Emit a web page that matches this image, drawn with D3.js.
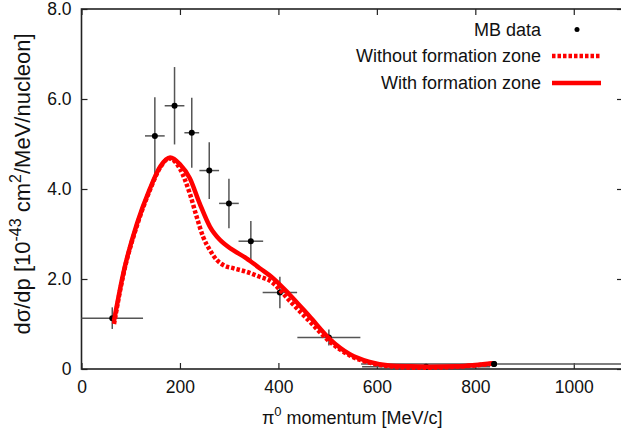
<!DOCTYPE html>
<html><head><meta charset="utf-8">
<script src="https://cdn.jsdelivr.net/npm/d3@7/dist/d3.min.js"></script>
<style>
html,body{margin:0;padding:0;background:#fff;}
svg{display:block;font-family:"Liberation Sans",Arial,Helvetica,sans-serif;}
</style></head>
<body><svg id="chart" width="621" height="432"></svg>
<script>
// ---- data ----
const xTicks = [0, 200, 400, 600, 800, 1000];
const yTicks = [0, 2, 4, 6, 8];
// MB data points: momentum, value, x half-width, y error
const dataX  = [62.5, 149, 189, 224, 259.5, 299.5, 344, 403, 502.5, 700, 838];
const dataY  = [1.13, 5.18, 5.85, 5.25, 4.41, 3.68, 2.84, 1.70, 0.70, 0.05, 0.11];
const dataXE = [62.5, 20, 20, 15, 20, 20, 25, 35, 64, 130, 270];
const dataYE = [0.24, 0.86, 0.86, 0.78, 0.63, 0.55, 0.45, 0.35, 0.18, 0.02, 0.03];
// "With formation zone" curve
const withX = [66, 85, 113, 138, 160, 180, 200, 220, 240, 261, 281, 308, 335, 362, 389, 424, 464, 505, 545, 585, 625, 668, 710, 760, 800, 836];
const withY = [1.07, 2.13, 3.24, 3.98, 4.50, 4.70, 4.55, 4.24, 3.68, 3.16, 2.87, 2.64, 2.46, 2.24, 2.02, 1.64, 1.16, 0.66, 0.33, 0.16, 0.08, 0.06, 0.05, 0.06, 0.09, 0.13];
// "Without formation zone" curve
const woX = [66, 85, 113, 138, 160, 178, 200, 220, 234, 247, 261, 275, 288, 308, 335, 362, 383, 424, 464, 505, 545, 585, 625, 668, 710, 760, 800, 836];
const woY = [1.0, 2.1, 3.2, 3.95, 4.48, 4.68, 4.45, 3.90, 3.38, 2.94, 2.64, 2.42, 2.31, 2.24, 2.16, 2.05, 1.96, 1.50, 1.05, 0.60, 0.30, 0.14, 0.06, 0.03, 0.03, 0.05, 0.08, 0.12];
const legendLabels = ["MB data", "Without formation zone", "With formation zone"];

// ---- layout ----
const L = 81.5, R = 623, T = 9, B = 369;
const x = d3.scaleLinear().domain([0, 1100]).range([L, R]);
const y = d3.scaleLinear().domain([0, 8]).range([B, T]);
const svg = d3.select("#chart");
const FS = 17.5;

const fmtY = d => d === 0 ? "0" : d.toFixed(1);
function styleAxis(g){
  g.select(".domain").remove();
  g.selectAll(".tick line").attr("stroke","#222").attr("stroke-width",1.2);
  g.selectAll("text").attr("font-size",FS).attr("fill","#111").attr("font-family",'"Liberation Sans",Arial,sans-serif');
}
svg.append("g").attr("transform",`translate(${L},0)`)
  .call(d3.axisLeft(y).tickValues(yTicks).tickFormat(fmtY).tickSizeInner(-6).tickSizeOuter(0).tickPadding(10))
  .call(styleAxis);
svg.append("g").attr("transform",`translate(0,${B})`)
  .call(d3.axisBottom(x).tickValues(xTicks).tickFormat(d3.format("d")).tickSizeInner(-6).tickSizeOuter(0).tickPadding(12))
  .call(styleAxis);
svg.append("g").attr("transform",`translate(0,${T})`)
  .call(d3.axisTop(x).tickValues(xTicks).tickFormat("").tickSizeInner(-6).tickSizeOuter(0))
  .call(styleAxis);
svg.append("g").attr("transform",`translate(${R},0)`)
  .call(d3.axisRight(y).tickValues(yTicks).tickFormat("").tickSizeInner(-6).tickSizeOuter(0))
  .call(styleAxis);
svg.append("rect").attr("x",L).attr("y",T).attr("width",R-L).attr("height",B-T)
  .attr("fill","none").attr("stroke","#222").attr("stroke-width",1.6);

// error bars
const pts = dataX.map((v,i)=>({x:v,y:dataY[i],xe:dataXE[i],ye:dataYE[i]}));
const eb = svg.append("g").attr("stroke","#555").attr("stroke-width",1.5);
eb.selectAll("line.h").data(pts).join("line").attr("class","h")
  .attr("x1",d=>x(Math.max(0,d.x-d.xe))).attr("x2",d=>x(d.x+d.xe))
  .attr("y1",d=>y(d.y)).attr("y2",d=>y(d.y));
eb.selectAll("line.v").data(pts).join("line").attr("class","v")
  .attr("x1",d=>x(d.x)).attr("x2",d=>x(d.x))
  .attr("y1",d=>y(d.y-d.ye)).attr("y2",d=>y(d.y+d.ye));

// points
svg.append("g").selectAll("circle").data(pts).join("circle")
  .attr("cx",d=>x(d.x)).attr("cy",d=>y(d.y)).attr("r",3).attr("fill","#000");

// curves (drawn over the points)
const line = d3.line().x(d=>x(d[0])).y(d=>y(d[1])).curve(d3.curveMonotoneX);
svg.append("path").datum(woX.map((v,i)=>[v,woY[i]])).attr("d",line)
  .attr("fill","none").attr("stroke","#ff0000").attr("stroke-width",4.5).attr("stroke-dasharray","3.5,2");
svg.append("path").datum(withX.map((v,i)=>[v,withY[i]])).attr("d",line)
  .attr("fill","none").attr("stroke","#ff0000").attr("stroke-width",4.5);
// end-point marker of the last data point stays visible on top
svg.append("circle").attr("cx",x(dataX[dataX.length-1])).attr("cy",y(dataY[dataY.length-1]))
  .attr("r",3).attr("fill","#000");

// legend
const lg = svg.append("g").attr("font-size",18).attr("fill","#111");
const lgY = [29.5, 56, 83];
legendLabels.forEach((t,i)=>{
  lg.append("text").attr("x",541).attr("y",lgY[i]).attr("dy","0.36em").attr("text-anchor","end").text(t);
});
lg.append("circle").attr("cx",577).attr("cy",lgY[0]).attr("r",2.5).attr("fill","#000");
lg.append("line").attr("x1",552).attr("x2",601).attr("y1",lgY[1]).attr("y2",lgY[1])
  .attr("stroke","#ff0000").attr("stroke-width",4.5).attr("stroke-dasharray","3.5,2");
lg.append("line").attr("x1",552).attr("x2",601).attr("y1",lgY[2]).attr("y2",lgY[2])
  .attr("stroke","#ff0000").attr("stroke-width",4.5);

// axis titles
const xt = svg.append("text").attr("x",(L+R)/2).attr("y",424).attr("text-anchor","middle").attr("font-size",18).attr("fill","#111");
xt.append("tspan").text("π");
xt.append("tspan").attr("font-size",13).attr("dy",-8).text("0");
xt.append("tspan").attr("dy",8).text(" momentum [MeV/c]");

const yt = svg.append("text").attr("transform",`translate(30,184) rotate(-90)`)
  .attr("text-anchor","middle").attr("font-size",22).attr("fill","#111");
yt.append("tspan").text("dσ/dp [10");
yt.append("tspan").attr("font-size",16).attr("dy",-9).text("-43");
yt.append("tspan").attr("dy",9).text(" cm");
yt.append("tspan").attr("font-size",16).attr("dy",-9).text("2");
yt.append("tspan").attr("dy",9).text("/MeV/nucleon]");
</script></body></html>
